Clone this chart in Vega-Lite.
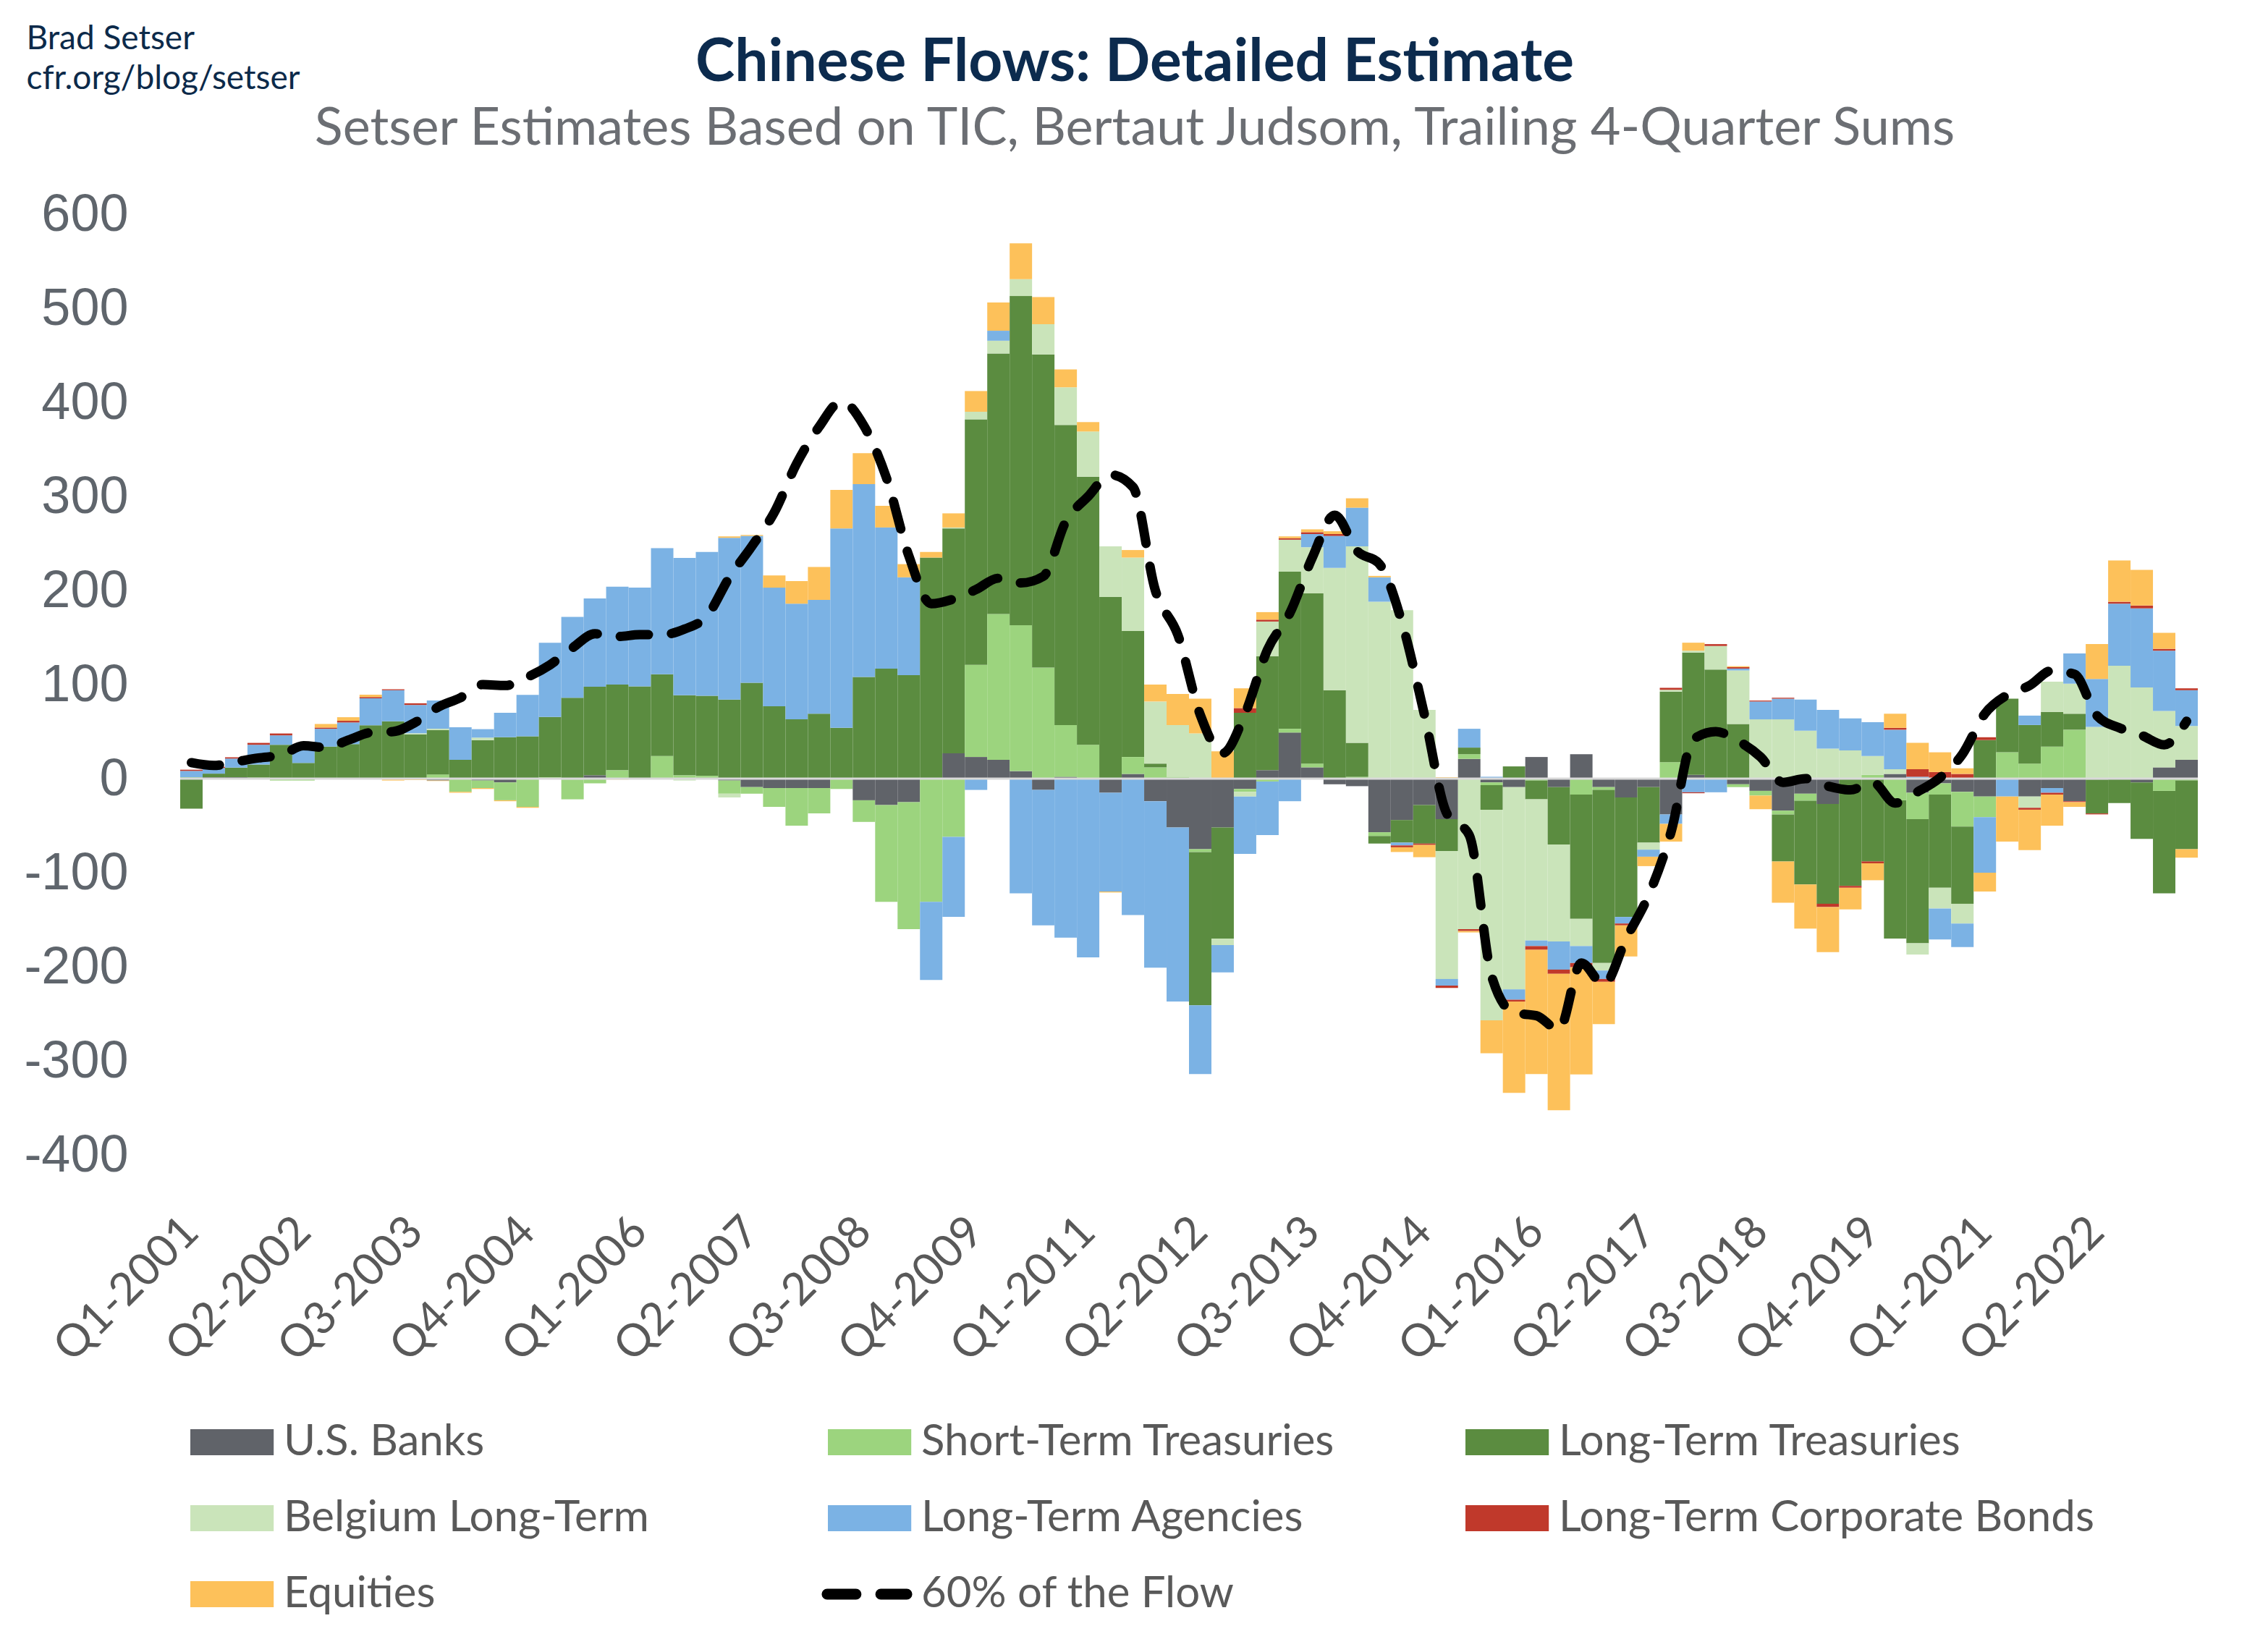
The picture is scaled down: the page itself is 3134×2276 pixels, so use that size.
{
"$schema": "https://vega.github.io/schema/vega-lite/v6.json",
"autosize": {"type": "none"},
"width": 2788, "height": 1300,
"padding": {"left": 249, "top": 296, "right": 97, "bottom": 680},
"background": "white",
"config": {"view": {"stroke": null}, "font": "Lato"},
"title": {"text": "Chinese Flows: Detailed Estimate", "subtitle": "Setser Estimates Based on TIC, Bertaut Judsom, Trailing 4-Quarter Sums", "anchor": "middle", "frame": "group", "dx": -75, "dy": 231, "offset": 46, "font": "Lato", "fontSize": 82, "fontWeight": "bold", "color": "#0c2b4e", "subtitleFont": "Lato", "subtitleFontSize": 72, "subtitleColor": "#6b6e73", "subtitlePadding": 14},
"data": {"values": [
{"q":"Q1-2001","a_banks":0,"b_st":1.5,"c_lt":-32,"d_belgium":0,"e_agencies":6.7,"f_corp":1.3,"g_equities":0,"flow":17},
{"q":"Q2-2001","a_banks":1.5,"b_st":0,"c_lt":3.8,"d_belgium":0,"e_agencies":6,"f_corp":1.3,"g_equities":0,"flow":14},
{"q":"Q3-2001","a_banks":1.5,"b_st":0,"c_lt":10.3,"d_belgium":0,"e_agencies":9.5,"f_corp":1.3,"g_equities":0,"flow":18},
{"q":"Q4-2001","a_banks":0,"b_st":1,"c_lt":14,"d_belgium":0,"e_agencies":21,"f_corp":2,"g_equities":0,"flow":22},
{"q":"Q1-2002","a_banks":0,"b_st":-2,"c_lt":36,"d_belgium":0,"e_agencies":10,"f_corp":2,"g_equities":0,"flow":25},
{"q":"Q2-2002","a_banks":0,"b_st":-2,"c_lt":16.7,"d_belgium":0,"e_agencies":19,"f_corp":0,"g_equities":0,"flow":35},
{"q":"Q3-2002","a_banks":0,"b_st":0,"c_lt":34,"d_belgium":0,"e_agencies":19,"f_corp":1.3,"g_equities":3.8,"flow":33},
{"q":"Q4-2002","a_banks":0,"b_st":0,"c_lt":36.7,"d_belgium":0,"e_agencies":23,"f_corp":1.8,"g_equities":3.8,"flow":41},
{"q":"Q1-2003","a_banks":0,"b_st":0,"c_lt":56.7,"d_belgium":0,"e_agencies":28.7,"f_corp":1.3,"g_equities":2.6,"flow":49},
{"q":"Q2-2003","a_banks":0,"b_st":0,"c_lt":61,"d_belgium":0,"e_agencies":33,"f_corp":1,"g_equities":-2,"flow":50},
{"q":"Q3-2003","a_banks":0,"b_st":0,"c_lt":47,"d_belgium":1.3,"e_agencies":30,"f_corp":1.8,"g_equities":-1.5,"flow":60},
{"q":"Q4-2003","a_banks":-2,"b_st":4.5,"c_lt":47,"d_belgium":1.5,"e_agencies":30,"f_corp":0,"g_equities":-0.5,"flow":76},
{"q":"Q1-2004","a_banks":0,"b_st":-14,"c_lt":20,"d_belgium":0,"e_agencies":34.6,"f_corp":0,"g_equities":-1,"flow":86},
{"q":"Q2-2004","a_banks":-2,"b_st":-8,"c_lt":41,"d_belgium":2.6,"e_agencies":9,"f_corp":0,"g_equities":-1,"flow":100},
{"q":"Q3-2004","a_banks":-4,"b_st":-19,"c_lt":44,"d_belgium":0,"e_agencies":26,"f_corp":0,"g_equities":-1,"flow":99},
{"q":"Q4-2004","a_banks":0,"b_st":-30,"c_lt":45,"d_belgium":0,"e_agencies":44,"f_corp":0,"g_equities":-1,"flow":108},
{"q":"Q1-2005","a_banks":0,"b_st":1.5,"c_lt":64,"d_belgium":0,"e_agencies":79,"f_corp":0,"g_equities":0,"flow":121},
{"q":"Q2-2005","a_banks":-1,"b_st":-21,"c_lt":86,"d_belgium":0,"e_agencies":86,"f_corp":0,"g_equities":0,"flow":139},
{"q":"Q3-2005","a_banks":3.6,"b_st":-5,"c_lt":94,"d_belgium":0,"e_agencies":94,"f_corp":0,"g_equities":0,"flow":154},
{"q":"Q4-2005","a_banks":0,"b_st":9,"c_lt":91,"d_belgium":0,"e_agencies":104,"f_corp":0,"g_equities":-1,"flow":151},
{"q":"Q1-2006","a_banks":0,"b_st":0,"c_lt":98,"d_belgium":0,"e_agencies":105,"f_corp":0,"g_equities":0,"flow":153},
{"q":"Q2-2006","a_banks":0,"b_st":24,"c_lt":87,"d_belgium":0,"e_agencies":134,"f_corp":0,"g_equities":0,"flow":153},
{"q":"Q3-2006","a_banks":0,"b_st":3.6,"c_lt":85,"d_belgium":-2,"e_agencies":146,"f_corp":0,"g_equities":0,"flow":159},
{"q":"Q4-2006","a_banks":0,"b_st":3,"c_lt":85,"d_belgium":0,"e_agencies":153,"f_corp":0,"g_equities":0,"flow":173},
{"q":"Q1-2007","a_banks":-2,"b_st":-14,"c_lt":84,"d_belgium":-4,"e_agencies":172,"f_corp":0,"g_equities":1.5,"flow":214},
{"q":"Q2-2007","a_banks":-9,"b_st":-7,"c_lt":102,"d_belgium":0,"e_agencies":156,"f_corp":0,"g_equities":1,"flow":247},
{"q":"Q3-2007","a_banks":-10,"b_st":-20,"c_lt":77,"d_belgium":0,"e_agencies":126,"f_corp":0,"g_equities":13,"flow":283},
{"q":"Q4-2007","a_banks":-10,"b_st":-40,"c_lt":63,"d_belgium":0,"e_agencies":123,"f_corp":0,"g_equities":24,"flow":335},
{"q":"Q1-2008","a_banks":-10,"b_st":-27,"c_lt":69,"d_belgium":0,"e_agencies":121,"f_corp":0,"g_equities":35,"flow":374},
{"q":"Q2-2008","a_banks":0,"b_st":-11,"c_lt":54,"d_belgium":0,"e_agencies":212,"f_corp":0,"g_equities":41,"flow":401},
{"q":"Q3-2008","a_banks":-23,"b_st":-23,"c_lt":108,"d_belgium":0,"e_agencies":205,"f_corp":0,"g_equities":33,"flow":375},
{"q":"Q4-2008","a_banks":-28,"b_st":-103,"c_lt":117,"d_belgium":0,"e_agencies":150,"f_corp":0,"g_equities":23,"flow":320},
{"q":"Q1-2009","a_banks":-25,"b_st":-135,"c_lt":110,"d_belgium":0,"e_agencies":104,"f_corp":0,"g_equities":14,"flow":237},
{"q":"Q2-2009","a_banks":0,"b_st":-131,"c_lt":235,"d_belgium":0,"e_agencies":-83,"f_corp":0,"g_equities":6,"flow":186},
{"q":"Q3-2009","a_banks":27,"b_st":-62,"c_lt":239,"d_belgium":1,"e_agencies":-85,"f_corp":0,"g_equities":15,"flow":191},
{"q":"Q4-2009","a_banks":23,"b_st":98,"c_lt":261,"d_belgium":8,"e_agencies":-12,"f_corp":0,"g_equities":22,"flow":201},
{"q":"Q1-2010","a_banks":20,"b_st":155,"c_lt":277,"d_belgium":13.5,"e_agencies":10.6,"f_corp":0,"g_equities":30,"flow":213},
{"q":"Q2-2010","a_banks":8,"b_st":155,"c_lt":350,"d_belgium":18,"e_agencies":-122,"f_corp":0,"g_equities":38,"flow":208},
{"q":"Q3-2010","a_banks":-12,"b_st":118,"c_lt":333,"d_belgium":32,"e_agencies":-144,"f_corp":0,"g_equities":29,"flow":215},
{"q":"Q4-2010","a_banks":2,"b_st":55,"c_lt":319,"d_belgium":40,"e_agencies":-169,"f_corp":0,"g_equities":19,"flow":273},
{"q":"Q1-2011","a_banks":0,"b_st":36,"c_lt":285,"d_belgium":48,"e_agencies":-190,"f_corp":0,"g_equities":10,"flow":300},
{"q":"Q2-2011","a_banks":-15,"b_st":0,"c_lt":193,"d_belgium":54,"e_agencies":-105,"f_corp":0,"g_equities":-1,"flow":323},
{"q":"Q3-2011","a_banks":5,"b_st":18,"c_lt":134,"d_belgium":78,"e_agencies":-145,"f_corp":0,"g_equities":8,"flow":310},
{"q":"Q4-2011","a_banks":-24,"b_st":12,"c_lt":4,"d_belgium":66,"e_agencies":-177,"f_corp":0,"g_equities":18,"flow":200},
{"q":"Q1-2012","a_banks":-52,"b_st":2,"c_lt":0,"d_belgium":55,"e_agencies":-185,"f_corp":0,"g_equities":33,"flow":153},
{"q":"Q2-2012","a_banks":-75,"b_st":-3,"c_lt":-163,"d_belgium":48,"e_agencies":-73,"f_corp":0,"g_equities":37,"flow":68},
{"q":"Q3-2012","a_banks":-52,"b_st":0,"c_lt":-118,"d_belgium":-7,"e_agencies":-29,"f_corp":0,"g_equities":29,"flow":27},
{"q":"Q4-2012","a_banks":-11,"b_st":-3,"c_lt":70,"d_belgium":-5,"e_agencies":-61,"f_corp":5,"g_equities":21,"flow":69},
{"q":"Q1-2013","a_banks":9,"b_st":-3,"c_lt":121,"d_belgium":37,"e_agencies":-57,"f_corp":2,"g_equities":8,"flow":137},
{"q":"Q2-2013","a_banks":49,"b_st":4,"c_lt":167,"d_belgium":34,"e_agencies":-24,"f_corp":1.5,"g_equities":2,"flow":176},
{"q":"Q3-2013","a_banks":12,"b_st":4,"c_lt":181,"d_belgium":49,"e_agencies":14,"f_corp":2,"g_equities":3,"flow":235},
{"q":"Q4-2013","a_banks":-6,"b_st":0,"c_lt":94,"d_belgium":130,"e_agencies":34,"f_corp":2,"g_equities":3,"flow":280},
{"q":"Q1-2014","a_banks":-8,"b_st":2,"c_lt":36,"d_belgium":209,"e_agencies":41,"f_corp":0,"g_equities":10,"flow":242},
{"q":"Q2-2014","a_banks":-57,"b_st":-4,"c_lt":-8,"d_belgium":188,"e_agencies":26,"f_corp":0,"g_equities":1.5,"flow":228},
{"q":"Q3-2014","a_banks":-44,"b_st":1,"c_lt":-24,"d_belgium":178,"e_agencies":-3,"f_corp":-2,"g_equities":-5,"flow":166},
{"q":"Q4-2014","a_banks":-28,"b_st":0,"c_lt":-41,"d_belgium":73,"e_agencies":0,"f_corp":-1.5,"g_equities":-13,"flow":68},
{"q":"Q1-2015","a_banks":-43,"b_st":0,"c_lt":-34,"d_belgium":-136,"e_agencies":-7,"f_corp":-2.5,"g_equities":1.5,"flow":-37},
{"q":"Q2-2015","a_banks":21,"b_st":5,"c_lt":7,"d_belgium":-160,"e_agencies":20,"f_corp":-2,"g_equities":-1.5,"flow":-60},
{"q":"Q3-2015","a_banks":-4,"b_st":-3,"c_lt":-26,"d_belgium":-224,"e_agencies":2,"f_corp":0,"g_equities":-35,"flow":-210},
{"q":"Q4-2015","a_banks":-9,"b_st":0,"c_lt":13,"d_belgium":-215,"e_agencies":-11,"f_corp":-2,"g_equities":-97,"flow":-249},
{"q":"Q1-2016","a_banks":23,"b_st":-2,"c_lt":-20,"d_belgium":-150,"e_agencies":-6,"f_corp":-4,"g_equities":-132,"flow":-252},
{"q":"Q2-2016","a_banks":-9,"b_st":0,"c_lt":-61,"d_belgium":-103,"e_agencies":-30,"f_corp":-4.5,"g_equities":-145,"flow":-267},
{"q":"Q3-2016","a_banks":26,"b_st":-17,"c_lt":-132,"d_belgium":-29,"e_agencies":-18,"f_corp":-4.5,"g_equities":-114,"flow":-196},
{"q":"Q4-2016","a_banks":-9,"b_st":-3,"c_lt":-184,"d_belgium":-8,"e_agencies":-9,"f_corp":-3,"g_equities":-45,"flow":-219},
{"q":"Q1-2017","a_banks":-20,"b_st":0,"c_lt":-127,"d_belgium":0,"e_agencies":-7,"f_corp":-2,"g_equities":-33,"flow":-170},
{"q":"Q2-2017","a_banks":-9,"b_st":0,"c_lt":-59,"d_belgium":-7.5,"e_agencies":-7.5,"f_corp":0,"g_equities":-10,"flow":-124},
{"q":"Q3-2017","a_banks":-38,"b_st":17.5,"c_lt":75,"d_belgium":2,"e_agencies":-10,"f_corp":2,"g_equities":-19,"flow":-57},
{"q":"Q4-2017","a_banks":4,"b_st":0,"c_lt":130,"d_belgium":2,"e_agencies":-14.5,"f_corp":-1,"g_equities":8.5,"flow":42},
{"q":"Q1-2018","a_banks":0,"b_st":0,"c_lt":116,"d_belgium":25,"e_agencies":-14.5,"f_corp":2,"g_equities":0,"flow":50},
{"q":"Q2-2018","a_banks":-6,"b_st":-3,"c_lt":58,"d_belgium":57,"e_agencies":2,"f_corp":1.5,"g_equities":1,"flow":40},
{"q":"Q3-2018","a_banks":-13,"b_st":-5,"c_lt":0,"d_belgium":63,"e_agencies":19,"f_corp":1,"g_equities":-14.5,"flow":23},
{"q":"Q4-2018","a_banks":-34,"b_st":-4,"c_lt":-50,"d_belgium":63,"e_agencies":22,"f_corp":1,"g_equities":-44,"flow":-4},
{"q":"Q1-2019","a_banks":-16,"b_st":-7.5,"c_lt":-89,"d_belgium":51,"e_agencies":33,"f_corp":0,"g_equities":-47,"flow":0},
{"q":"Q2-2019","a_banks":-27,"b_st":0,"c_lt":-106,"d_belgium":32,"e_agencies":41,"f_corp":-3.5,"g_equities":-48,"flow":-8},
{"q":"Q3-2019","a_banks":0,"b_st":0,"c_lt":-114,"d_belgium":30,"e_agencies":34,"f_corp":-2,"g_equities":-23,"flow":-12},
{"q":"Q4-2019","a_banks":0,"b_st":4,"c_lt":-88,"d_belgium":20,"e_agencies":36,"f_corp":-2,"g_equities":-18,"flow":-4},
{"q":"Q1-2020","a_banks":5,"b_st":-23,"c_lt":-147,"d_belgium":5,"e_agencies":42,"f_corp":2,"g_equities":15,"flow":-26},
{"q":"Q2-2020","a_banks":-15,"b_st":-28,"c_lt":-132,"d_belgium":-12,"e_agencies":2,"f_corp":8,"g_equities":28,"flow":-14},
{"q":"Q3-2020","a_banks":-5,"b_st":-12,"c_lt":-99,"d_belgium":-22,"e_agencies":-33,"f_corp":7,"g_equities":21,"flow":1},
{"q":"Q4-2020","a_banks":-14,"b_st":-37,"c_lt":-82,"d_belgium":-21,"e_agencies":-25,"f_corp":5,"g_equities":6,"flow":26},
{"q":"Q1-2021","a_banks":-19,"b_st":-22,"c_lt":41,"d_belgium":0,"e_agencies":-59,"f_corp":3,"g_equities":-20,"flow":69},
{"q":"Q2-2021","a_banks":0,"b_st":28,"c_lt":57,"d_belgium":0,"e_agencies":-19,"f_corp":0,"g_equities":-48,"flow":89},
{"q":"Q3-2021","a_banks":-19,"b_st":16,"c_lt":41,"d_belgium":-12,"e_agencies":10,"f_corp":-2,"g_equities":-43,"flow":99},
{"q":"Q4-2021","a_banks":-10,"b_st":34,"c_lt":37,"d_belgium":32,"e_agencies":-5,"f_corp":-2,"g_equities":-33,"flow":115},
{"q":"Q1-2022","a_banks":-24,"b_st":52,"c_lt":17,"d_belgium":32,"e_agencies":32,"f_corp":-1,"g_equities":-5,"flow":111},
{"q":"Q2-2022","a_banks":-1,"b_st":0,"c_lt":-36,"d_belgium":55,"e_agencies":51,"f_corp":-1,"g_equities":37,"flow":67},
{"q":"Q3-2022","a_banks":0,"b_st":0,"c_lt":-26,"d_belgium":120,"e_agencies":66,"f_corp":2,"g_equities":44,"flow":54},
{"q":"Q4-2022","a_banks":-4,"b_st":0,"c_lt":-60,"d_belgium":97,"e_agencies":84,"f_corp":3,"g_equities":38,"flow":46},
{"q":"Q1-2023","a_banks":12,"b_st":-13,"c_lt":-109,"d_belgium":60,"e_agencies":64,"f_corp":2,"g_equities":17,"flow":36},
{"q":"Q2-2023","a_banks":20,"b_st":-2,"c_lt":-73,"d_belgium":36,"e_agencies":38,"f_corp":2,"g_equities":-9,"flow":61}
]},
"layer": [
{
"transform": [{"fold": ["a_banks","b_st","c_lt","d_belgium","e_agencies","f_corp","g_equities"], "as": ["key","value"]}],
"mark": {"type": "bar"},
"encoding": {
"x": {"field": "q", "type": "ordinal", "sort": null, "title": null, "scale": {"paddingInner": 0, "paddingOuter": 0},
 "axis": {"values": ["Q1-2001","Q2-2002","Q3-2003","Q4-2004","Q1-2006","Q2-2007","Q3-2008","Q4-2009","Q1-2011","Q2-2012","Q3-2013","Q4-2014","Q1-2016","Q2-2017","Q3-2018","Q4-2019","Q1-2021","Q2-2022"], "domain": false, "ticks": false, "tickSize": 0, "grid": false, "labelAngle": -45, "labelAlign": "right", "labelBaseline": "middle", "labelPadding": 96, "labelFont": "Lato", "labelFontSize": 62, "labelColor": "#595959", "labelLimit": 1000, "labelOverlap": false}},
"y": {"field": "value", "type": "quantitative", "title": ["Brad Setser", "cfr.org/blog/setser"], "scale": {"domain": [-400, 600], "nice": false, "zero": false},
 "axis": {"values": [-400,-300,-200,-100,0,100,200,300,400,500,600], "labelExpr": "'' + datum.value", "domain": false, "ticks": false, "tickSize": 0, "grid": false, "labelFont": "Liberation Sans", "labelFontSize": 72, "labelColor": "#5f656c", "labelPadding": 72, "titleAngle": 0, "titleAlign": "left", "titleBaseline": "alphabetic", "titleX": -213, "titleY": -229, "titleFont": "Lato", "titleFontSize": 46, "titleFontWeight": "normal", "titleColor": "#0c2a4a", "titleLineHeight": 55}},
"color": {"field": "key", "type": "nominal",
 "scale": {"domain": ["a_banks","b_st","c_lt","d_belgium","e_agencies","f_corp","g_equities","h_flow"], "range": ["#606369","#9cd47e","#5b8c40","#cae4ba","#7bb2e4","#c0392b","#fdc15a","#000000"]},
 "legend": {"orient": "none", "legendX": 2, "legendY": 1667, "direction": "horizontal", "columns": 3, "gridAlign": "all", "columnPadding": -21, "rowPadding": 45, "padding": 0, "title": null,
  "symbolSize": 1296, "symbolType": "M-1,-1H5.4V1H-1Z", "labelOffset": 81, "labelFont": "Lato", "labelFontSize": 60, "labelColor": "#595959", "labelLimit": 2000,
  "labelExpr": "datum.value == 'a_banks' ? 'U.S. Banks' : datum.value == 'b_st' ? 'Short-Term Treasuries' : datum.value == 'c_lt' ? 'Long-Term Treasuries' : datum.value == 'd_belgium' ? 'Belgium Long-Term' : datum.value == 'e_agencies' ? 'Long-Term Agencies' : datum.value == 'f_corp' ? 'Long-Term Corporate Bonds' : datum.value == 'g_equities' ? 'Equities' : '60% of the Flow'",
  "encode": {"symbols": {"update": {
   "size": {"value": 1296},
   "shape": {"signal": "datum.value == 'h_flow' ? 'M-1.06,0H1.16M3.06,0H5.06' : 'M-1,-1H5.4V1H-1Z'"},
   "fill": {"signal": "datum.value == 'h_flow' ? 'transparent' : scale('color', datum.value)"},
   "stroke": {"signal": "datum.value == 'h_flow' ? '#000000' : 'transparent'"},
   "strokeWidth": {"signal": "datum.value == 'h_flow' ? 15 : 0"},
   "strokeCap": {"value": "round"},
   "opacity": {"value": 1},
   "fillOpacity": {"value": 1}}}}}},
"order": {"field": "key", "sort": "ascending"}
}
},
{
"data": {"values": [{}]},
"mark": {"type": "rule", "color": "#d9d9d9", "strokeWidth": 3},
"encoding": {"y": {"datum": 0}}
},
{
"mark": {"type": "line", "strokeWidth": 13, "strokeDash": [39, 32], "strokeCap": "round", "interpolate": "monotone"},
"encoding": {
"x": {"field": "q", "type": "ordinal", "sort": null, "title": null},
"y": {"field": "flow", "type": "quantitative", "title": ["Brad Setser", "cfr.org/blog/setser"]},
"color": {"datum": "h_flow"}
}
}
]
}
